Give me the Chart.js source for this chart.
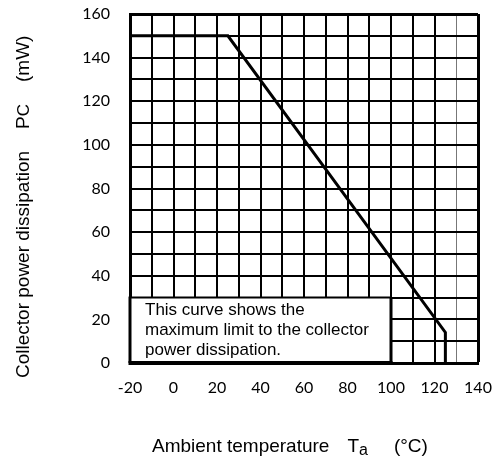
<!DOCTYPE html>
<html>
<head>
<meta charset="utf-8">
<script src="https://cdn.jsdelivr.net/npm/chart.js@4/dist/chart.umd.min.js"></script>
<style>
  html, body { margin: 0; padding: 0; background: #fff; }
  #wrap { width: 496px; height: 459px; }
</style>
</head>
<body>
<div id="wrap"><canvas id="pcChart"></canvas></div>
<script>
// derating curve
const tempC = [-20, 25, 125, 125];
const powerMW = [150, 150, 14, 0];

const noteLines = ['This curve shows the', 'maximum limit to the collector', 'power dissipation.'];

const tickFont = { family: 'Lato', size: 16 };
const textFamily = '"Liberation Sans", Arial, sans-serif';

// white note box in the lower left of the plot, plus the two axis titles
const notePlugin = {
  id: 'notePlugin',
  afterDatasetsDraw(chart) {
    const { ctx, scales: { x, y } } = chart;
    const l = x.getPixelForValue(-20), r = x.getPixelForValue(100);
    const t = y.getPixelForValue(30), b = y.getPixelForValue(0);
    ctx.save();
    ctx.fillStyle = '#fff';
    ctx.fillRect(l, t, r - l, b - t);
    ctx.strokeStyle = '#000';
    ctx.lineWidth = 2;
    ctx.beginPath(); ctx.moveTo(l, t); ctx.lineTo(r, t); ctx.stroke();
    ctx.lineWidth = 3;
    ctx.beginPath(); ctx.moveTo(r, t); ctx.lineTo(r, b); ctx.stroke();
    ctx.beginPath(); ctx.moveTo(l, t - 1); ctx.lineTo(l, b); ctx.stroke();
    ctx.lineWidth = 4;
    ctx.beginPath(); ctx.moveTo(l - 1.5, b); ctx.lineTo(r + 1.5, b); ctx.stroke();

    ctx.fillStyle = '#000';
    ctx.font = '17px ' + textFamily;
    ctx.textBaseline = 'middle';
    ctx.textAlign = 'left';
    noteLines.forEach((s, i) => ctx.fillText(s, l + 15, t + 13 + i * 20));
    ctx.restore();
  },
  afterDraw(chart) {
    const { ctx } = chart;
    ctx.save();
    ctx.fillStyle = '#000';
    ctx.textBaseline = 'alphabetic';

    // x title with subscript a
    const big = '19px ' + textFamily, small = '16px ' + textFamily;
    const parts = [['Ambient temperature', big, 0, 18], ['T', big, 0, 0], ['a', small, 3, 26], ['(\u00B0C)', big, 0, 0]];
    let px = 152;
    parts.forEach(([s, f, dy, gap]) => {
      ctx.font = f;
      ctx.fillText(s, px, 452 + dy);
      px += ctx.measureText(s).width + gap;
    });

    // y title, rotated
    ctx.translate(29, 378);
    ctx.rotate(-Math.PI / 2);
    const yparts = [['Collector power dissipation', big, 0, 22], ['P', big, 0, 0], ['C', '17px ' + textFamily, 0, 22], ['(mW)', big, 0, 0]];
    let qx = 0;
    yparts.forEach(([s, f, dy, gap]) => {
      ctx.font = f;
      ctx.fillText(s, qx, dy);
      qx += ctx.measureText(s).width + gap;
    });
    ctx.restore();
  }
};

const gridWidth = (edge) => (c) => (c.tick && c.tick.value === edge ? 3 : 2);

new Chart(document.getElementById('pcChart'), {
  type: 'scatter',
  data: {
    datasets: [{
      label: 'Pc',
      data: tempC.map((t, i) => ({ x: t, y: powerMW[i] })),
      showLine: true,
      borderColor: '#000',
      borderWidth: 3,
      pointRadius: 0,
      tension: 0
    }]
  },
  options: {
    responsive: true,
    maintainAspectRatio: false,
    animation: false,
    layout: { padding: { top: 14, right: 18, left: 0, bottom: 0 } },
    plugins: {
      legend: { display: false },
      tooltip: { enabled: false }
    },
    scales: {
      x: {
        type: 'linear',
        min: -20,
        max: 140,
        afterFit(s) { s.height = 96; s.paddingLeft = 0; s.paddingRight = 0; },
        ticks: {
          stepSize: 10,
          autoSkip: false,
          maxRotation: 0,
          padding: 15,
          color: '#000',
          font: tickFont,
          callback: (v) => (v % 20 === 0 ? v : '')
        },
        grid: {
          drawTicks: false,
          color: (c) => (c.tick && c.tick.value === 130 ? '#777' : '#000'),
          lineWidth: (c) => (c.tick && c.tick.value === 130 ? 1 : gridWidth(140)(c))
        },
        border: { color: '#000', width: 3 }
      },
      y: {
        min: 0,
        max: 160,
        afterFit(s) { s.width = 130; s.paddingTop = 0; s.paddingBottom = 0; },
        ticks: {
          stepSize: 10,
          autoSkip: false,
          padding: 20,
          color: '#000',
          font: tickFont,
          callback: (v) => (v % 20 === 0 ? v : '')
        },
        grid: {
          drawTicks: false,
          color: '#000',
          lineWidth: gridWidth(160)
        },
        border: { color: '#000', width: 3 }
      }
    }
  },
  plugins: [notePlugin]
});
</script>
</body>
</html>
